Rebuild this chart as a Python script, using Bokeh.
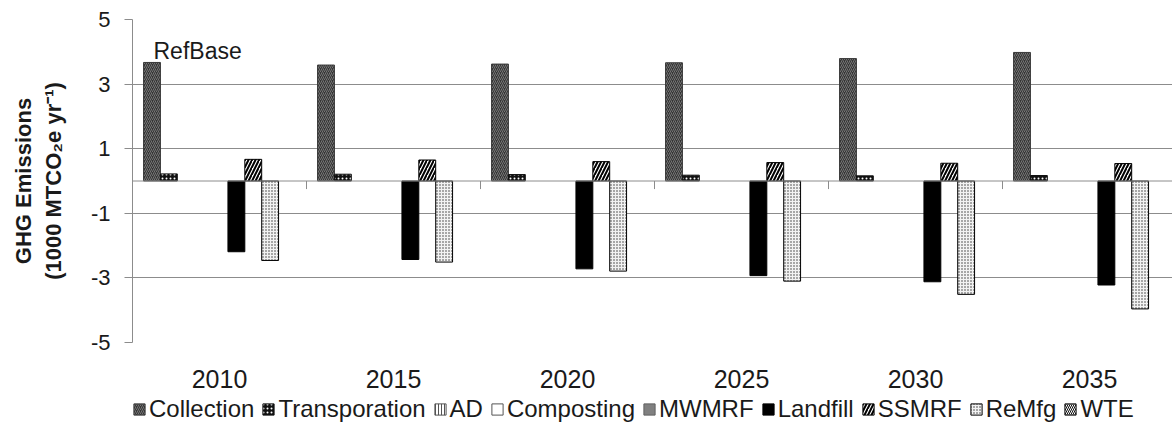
from bokeh.plotting import figure
from bokeh.layouts import column
from bokeh.models import (ColumnDataSource, FixedTicker, Legend, LegendItem, Label,
                          Span, Range1d)
from bokeh.embed import file_html
from bokeh.resources import INLINE

# ---- data (1000 MTCO2e per year) ----
years = ["2010", "2015", "2020", "2025", "2030", "2035"]
series = ["Collection", "Transporation", "AD", "Composting", "MWMRF",
          "Landfill", "SSMRF", "ReMfg", "WTE"]
collection = [3.67, 3.59, 3.62, 3.66, 3.79, 3.98]
transportation = [0.22, 0.21, 0.20, 0.18, 0.16, 0.17]
ad = [0.0, 0.0, 0.0, 0.0, 0.0, 0.0]
composting = [0.0, 0.0, 0.0, 0.0, 0.0, 0.0]
mwmrf = [0.0, 0.0, 0.0, 0.0, 0.0, 0.0]
landfill = [-2.19, -2.43, -2.72, -2.93, -3.12, -3.22]
ssmrf = [0.67, 0.65, 0.60, 0.57, 0.55, 0.54]
remfg = [-2.46, -2.51, -2.79, -3.10, -3.51, -3.96]
wte = [0.0, 0.0, 0.0, 0.0, 0.0, 0.0]
y_ticks = [-5, -3, -1, 1, 3, 5]

values = [collection, transportation, ad, composting, mwmrf, landfill, ssmrf, remfg, wte]

# fill / hatch styles per series
styles = [
    dict(fill_color="#353535", hatch_pattern="/", hatch_color="#767676", hatch_scale=4, hatch_weight=1, line_color="#3a3a3a"),
    dict(fill_color="#111111", hatch_pattern=".", hatch_color="#ffffff", hatch_scale=4, hatch_weight=1, line_color="#111111"),
    dict(fill_color="#ffffff", hatch_pattern="|", hatch_color="#555555", hatch_scale=3, hatch_weight=1, line_color="#555555"),
    dict(fill_color="#ffffff", line_color="#555555"),
    dict(fill_color="#808080", line_color="#606060"),
    dict(fill_color="#000000", line_color="#000000"),
    dict(fill_color="#ffffff", hatch_pattern="/", hatch_color="#000000", hatch_scale=7, hatch_weight=2, line_color="#000000"),
    dict(fill_color="#f2f2f2", hatch_pattern=".", hatch_color="#333333", hatch_scale=3, hatch_weight=1, line_color="#000000"),
    dict(fill_color="#111111", hatch_pattern="\\", hatch_color="#ffffff", hatch_scale=4, hatch_weight=1, line_color="#111111"),
]

font = "Liberation Sans"
text_color = "#1a1a1a"
grid_color = "#8c8c8c"

px_per_cat = 174.0
frame_w, frame_h = 1040, 323
p = figure(frame_width=frame_w, frame_height=frame_h, output_backend="svg", toolbar_location=None,
           x_range=Range1d(0, frame_w / px_per_cat), y_range=Range1d(-5, 5),
           min_border_left=132, min_border_right=0, min_border_top=19, min_border_bottom=52)
p.outline_line_color = None
p.xgrid.visible = False
p.ygrid.grid_line_color = grid_color
p.ygrid.grid_line_width = 1

# y axis
p.yaxis.ticker = FixedTicker(ticks=y_ticks)
p.yaxis.major_label_overrides = {t: str(t) for t in y_ticks}
p.yaxis.axis_line_color = grid_color
p.yaxis.major_tick_line_color = grid_color
p.yaxis.major_tick_out = 8
p.yaxis.major_tick_in = 0
p.yaxis.minor_tick_line_color = None
p.yaxis.major_label_text_font = font
p.yaxis.major_label_text_font_size = "22px"
p.yaxis.major_label_text_color = text_color
p.yaxis.major_label_standoff = 14
p.yaxis.axis_label = "GHG Emissions\n(1000 MTCO\u2082e yr\u207b\u00b9)"
p.yaxis.axis_label_text_font = font
p.yaxis.axis_label_text_font_size = "22px"
p.yaxis.axis_label_text_font_style = "bold"
p.yaxis.axis_label_text_color = text_color
p.yaxis.axis_label_standoff = 22

# x axis: labels only, at category centres
centers = [i + 0.5 for i in range(len(years))]
p.xaxis.ticker = FixedTicker(ticks=centers)
p.xaxis.major_label_overrides = {c: y for c, y in zip(centers, years)}
p.xaxis.axis_line_color = None
p.xaxis.major_tick_line_color = None
p.xaxis.minor_tick_line_color = None
p.xaxis.major_label_text_font = font
p.xaxis.major_label_text_font_size = "25px"
p.xaxis.major_label_text_color = text_color
p.xaxis.major_label_standoff = 21

# zero line and category boundary ticks
p.add_layout(Span(location=0, dimension="width", line_color=grid_color, line_width=1))
bounds = list(range(len(years) + 1))
p.segment(x0=bounds, y0=[0] * len(bounds), x1=bounds, y1=[-0.25] * len(bounds),
          line_color=grid_color, line_width=1)

# bars (zero-valued entries are left undrawn)
bw = 0.097
for k, (vals, st) in enumerate(zip(values, styles)):
    xs = [i + 0.5 + (k - 4) * bw for i in range(len(years))]
    tops = [v if v != 0 else float("nan") for v in vals]
    src = ColumnDataSource(dict(x=xs, top=tops, bottom=[0.0] * len(vals)))
    p.vbar(x="x", top="top", bottom="bottom", width=bw, source=src, line_width=1, **st)

p.add_layout(Label(x=(153 - 132) / px_per_cat, y=4.02, text="RefBase",
                   text_font=font, text_font_size="23px", text_color=text_color,
                   text_baseline="alphabetic"))

# legend strip underneath the chart
leg_h = 424 - 19 - frame_h - 52
lg = figure(width=132 + frame_w, height=leg_h, output_backend="svg", toolbar_location=None,
            x_range=Range1d(0, 1), y_range=Range1d(0, 1),
            x_axis_location=None, y_axis_location=None,
            min_border=0, min_border_left=0, min_border_right=0, min_border_top=0, min_border_bottom=0)
lg.grid.visible = False
lg.outline_line_color = None
items = []
for name, st in zip(series, styles):
    r = lg.vbar(x=[float("nan")], top=[float("nan")], width=0.1, line_width=1, **st)
    items.append(LegendItem(label=name, renderers=[r]))
legend = Legend(items=items, orientation="horizontal", location=(0, 1),
                glyph_width=14, glyph_height=14, label_standoff=3, spacing=7,
                label_text_font=font, label_text_font_size="24px",
                label_text_color=text_color, border_line_color=None,
                background_fill_alpha=0, padding=0, margin=0)
lg.add_layout(legend, "center")

page = column(p, lg, spacing=0)
open("out.html", "w").write(file_html(page, INLINE))
